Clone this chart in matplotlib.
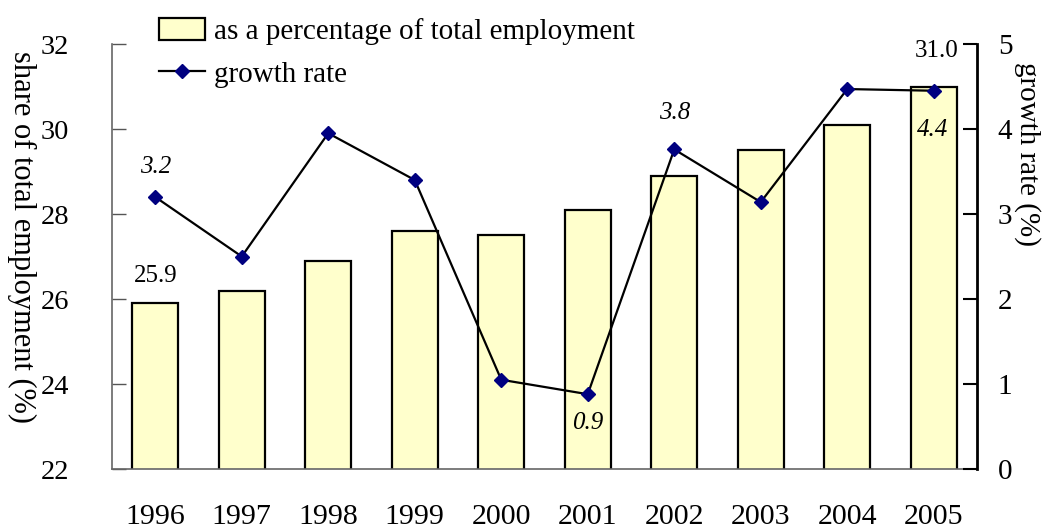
import matplotlib
matplotlib.use("Agg")
import matplotlib.pyplot as plt
from matplotlib.patches import Patch
from matplotlib.lines import Line2D
import numpy as np

years = ["1996", "1997", "1998", "1999", "2000", "2001", "2002", "2003", "2004", "2005"]
share = [25.9, 26.2, 26.9, 27.6, 27.5, 28.1, 28.9, 29.5, 30.1, 31.0]
growth = [3.2, 2.5, 3.95, 3.4, 1.05, 0.88, 3.76, 3.14, 4.47, 4.45]

plt.rcParams['font.family'] = ['Liberation Serif', 'DejaVu Serif']

fig = plt.figure(figsize=(10.5, 5.29), dpi=100)
ax = fig.add_axes([112/1050, 1-469/529, (977-112)/1050, (469-44)/529])
x = np.arange(len(years))
ax.bar(x, share, width=0.53, color='#FFFFCC', edgecolor='black', linewidth=1.6, zorder=2)
ax.set_ylim(22, 32)
ax.set_xlim(-0.5, len(years) - 0.5)
ax.set_yticks([22, 24, 26, 28, 30, 32])
ax.set_xticks(x)
ax.set_xticklabels(years)
ax.tick_params(axis='x', length=0, pad=25, labelsize=21.5)
ax.tick_params(axis='y', direction='in', length=10, width=1, color='#555555', labelsize=20.5, pad=41)
for lab in ax.get_yticklabels():
    lab.set_horizontalalignment('center')
ax.spines['top'].set_visible(False)
ax.spines['right'].set_visible(False)
ax.spines['left'].set_color('#666666')
ax.spines['bottom'].set_color('#666666')
ax.spines['left'].set_linewidth(1.2)
ax.spines['bottom'].set_linewidth(1.2)

ax2 = ax.twinx()
ax2.plot(x, growth, color='black', linewidth=1.6, marker='D', markersize=7,
         markerfacecolor='#000080', markeredgecolor='#000080', zorder=3)
ax2.set_ylim(0, 5)
ax2.set_yticks([0, 1, 2, 3, 4, 5])
ax2.tick_params(axis='y', direction='in', length=10, width=1.5, color='black', labelsize=21, pad=15)
for s in ['top', 'left', 'bottom']:
    ax2.spines[s].set_visible(False)
ax2.spines['right'].set_linewidth(2)

# annotations
ax.annotate(f"{share[0]:.1f}", (x[0], share[0]), xytext=(0, 12), textcoords='offset points',
            ha='center', va='bottom', fontsize=18)
ax.annotate(f"{share[-1]:.1f}", (x[-1], share[-1]), xytext=(2, 18), textcoords='offset points',
            ha='center', va='bottom', fontsize=18)
ax2.annotate(f"{growth[0]:.1f}", (x[0], growth[0]), xytext=(0, 14), textcoords='offset points',
             ha='center', va='bottom', fontsize=18, style='italic')
ax2.annotate(f"{growth[5]:.1f}", (x[5], growth[5]), xytext=(0, -13), textcoords='offset points',
             ha='center', va='top', fontsize=18, style='italic')
ax2.annotate(f"{growth[6]:.1f}", (x[6], growth[6]), xytext=(0, 18), textcoords='offset points',
             ha='center', va='bottom', fontsize=18, style='italic')
ax2.annotate("4.4", (x[9], growth[9]), xytext=(-1, -20), textcoords='offset points',
             ha='center', va='top', fontsize=18, style='italic')

fig.text(22/1050, 1-237/529, "share of total employment (%)", rotation=-90,
         ha='center', va='center', fontsize=22)
fig.text(1027/1050, 1-62/529, "growth rate (%)", rotation=-90,
         ha='center', va='top', fontsize=21)

handles = [Patch(facecolor='#FFFFCC', edgecolor='black', linewidth=1.6),
           Line2D([], [], color='black', linewidth=1.6, marker='D', markersize=7,
                  markerfacecolor='#000080', markeredgecolor='#000080')]
fig.legend(handles, ["as a percentage of total employment", "growth rate"],
           loc='upper left', bbox_to_anchor=(141/1050, 1.0), frameon=False,
           fontsize=21, handlelength=1.6, handleheight=0.8, handletextpad=0.3,
           labelspacing=0.55, borderaxespad=0.2)

fig.savefig("out.png", dpi=100)
